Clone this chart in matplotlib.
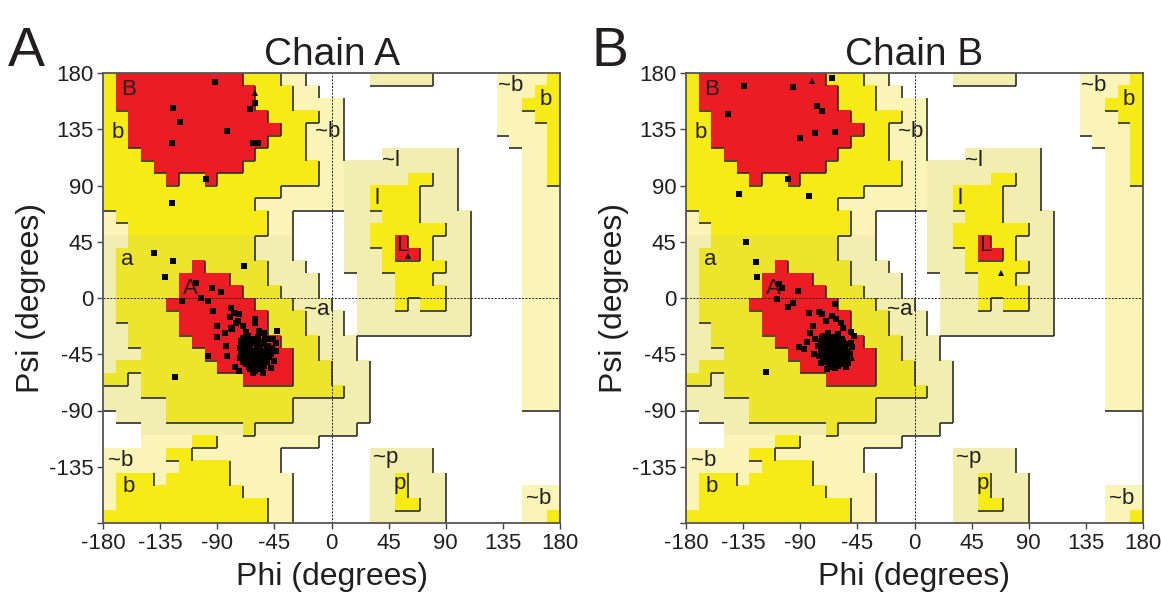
import numpy as np
import matplotlib
matplotlib.use('Agg')
import matplotlib.pyplot as plt
from matplotlib.colors import ListedColormap
from matplotlib.collections import LineCollection

plt.rcParams['font.family'] = ['Liberation Sans', 'DejaVu Sans']
plt.rcParams['axes.unicode_minus'] = False

# Ramachandran region map, 10 degree cells.
# row 0 = psi 170..180 (top), column 0 = phi -180..-170 (left)
# R core, Y/O allowed, P/G generous, . disallowed
regions = [
    "YRRRRRRRRRRYYYPP.....GGGGG.....PPPPY",
    "YRRRRRRRRRRRYYYPP..............PPPYY",
    "YRRRRRRRRRRRYYYPPPP............PPYYY",
    "YYRRRRRRRRRRRYYYYPP............PPPYY",
    "YYRRRRRRRRRRRRYYPPP............PPPPY",
    "YYRRRRRRRRRRRYYYPPP.............PPPY",
    "YYYRRRRRRRRRYYYYPPP...GGGGGG.....PPY",
    "YYYYRRRRRRRYYYYYYPPGGGGGGGGG.....PPY",
    "YYYYYRYYRYYYYYYYYPPGGGGGYYGG.....PPY",
    "YYYYYYYYYYYYYYPPPPPGGYYYYGGG.....PPP",
    "YYYYYYYYYYYYPPPPPPPGGYYYYGGG.....PPP",
    "PYYYYYYYYYYYYPP....GGGYYYGGGG....PPP",
    "PPYYYYYYYYYYYPP....GGYYYYYYGG....PPP",
    "GGOOOOOOOOOOGGG....GGYYRYYGGG....PPP",
    "GOOOOOOOOOOOGGG....GGGYRRYGGG....PPP",
    "GOOOOOOROOOOOGGG...GGGYYYYYGG....PPP",
    "GOOOOORRRROOOGGGG...GGGYYYGGG....PPP",
    "GOOOOORRRRROOOGGG...GGGYYYYGG....PPP",
    "GOOOORRRRRRROOOGGG..GGGYGYYGG....PPP",
    "GOOOOORRRRRRROOOGGG.GGGGGGGGG....PPP",
    "GGOOOORRRRRRROOOGGG.GGGGGGGGG....PPP",
    "GGOOOOORRRRRRROOOGGG.............PPP",
    "GGGOOOOORRRRRRROOGGG.............PPP",
    "GOOOOOOOORRRRRROOOGGG............PPP",
    "OOGOOOOOOOORRRROOOGGG............PPP",
    "GGGOOOOOOOOOOOOOOOOGG............PPP",
    "GGGGGOOOOOOOOOOGGGGGG............PPP",
    ".GGGGOOOOOOOOOOGGGGGG...............",
    "...GGGGGGGGOGGGGGGGG................",
    "...PPPPYYPPPPPPPP...................",
    "PPPPPYYPPPPPPP.......GGGGG..........",
    "PPPPPPYYYYPPPP.......GGGGG..........",
    "PYYYPYYYYYPPPPP......GGYGGG.........",
    "PYYYYYYYYYYPPPP......GGYGGG......PPP",
    "PYYYYYYYYYYYYPP......GGYYGG......PPP",
    "YYYYYYYYYYYYYPP......GGGGGG......PPY",
]
codes = ".PGYOR"
region_colors = ["#FFFFFF", "#FAF5B6", "#F1EEB0", "#F6EB15", "#EDE52B", "#EC1C24"]
levels = {".": 0, "P": 1, "G": 1, "Y": 2, "O": 2, "R": 3}

region_text = ["B", "b", "~b", "~l", "l", "L", "a", "A", "~a", "~b", "b", "~p", "p", "~b", "b", "~b"]
region_text_phi = [-160, -168, -3, 47, 36, 56, -161, -111, -12, -166, -160, 43, 54, 141, 169, 163]
region_text_psi = [167, 132, 133, 110, 80, 42, 31, 8, -9, -130, -151, -128, -148, 170, 159, -160]

# Chain A, non-glycine residues (squares)
chainA_phi = [-92, -60, -64, -125, -119, -82, -126, -62, -58, -99, -126,
              -140, -125, -131, -69, -107, -94, -87, -103, -97, -118, -93, -79, -77, -73,
              -90, -79, -74, -60, -90, -43, -51, -44, -44, -97, -82, -123,
              -70, -66, -62, -58, -55, -52, -68, -64, -60, -56, -50, -72, -68, -64, -61,
              -58, -54, -50, -47, -70, -66, -63, -60, -57, -53, -49, -72, -68, -65, -61,
              -58, -55, -51, -67, -63, -60, -56, -53, -64, -60, -57, -62, -66, -59, -62,
              -55, -69, -52, -58, -65, -78, -75, -80, -84, -76, -48, -45, -46, -43, -53,
              -60, -70, -83, -73, -54, -71, -67, -57, -63, -59, -48,
              -71, -67, -63, -59, -53, -69, -65, -57, -51, -71, -67, -64, -59, -55, -51,
              -69, -64, -61, -56, -53, -70, -66, -62, -59, -54, -65, -61, -58, -55, -63]
chainA_psi = [173, 156, 151, 152, 141, 134, 124, 124, 124, 95, 76,
              36, 30, 17, 26, 12, 8, 5, 0, -2, -2, -10, -8, -12, -13,
              -22, -24, -18, -17, -31, -26, -33, -36, -42, -46, -46, -63,
              -32, -30, -33, -31, -35, -33, -36, -37, -36, -38, -38, -40, -41, -40, -42,
              -41, -42, -43, -40, -45, -44, -46, -45, -47, -46, -47, -48, -49, -50, -49,
              -51, -50, -51, -53, -54, -53, -55, -54, -57, -58, -57, -60, -47, -39, -44,
              -45, -43, -49, -48, -42, -25, -20, -15, -28, -55, -56, -50, -33, -26, -28,
              -20, -22, -38, -58, -60, -35, -27, -26, -52, -55, -45,
              -34, -33, -35, -34, -37, -38, -39, -40, -41, -44, -45, -43, -43, -44, -45,
              -47, -48, -47, -48, -48, -51, -51, -52, -52, -52, -55, -56, -55, -57, -50]
# Chain A glycines (triangles)
chainA_gly_phi = [-60, 60]
chainA_gly_psi = [164, 34]

# Chain B, non-glycine residues
chainB_phi = [-134, -96, -65, -147, -77, -73, -78, -63, -90, -100, -138, -83,
              -133, -125, -124, -107, -104, -92, -108, -96, -100, -63, -83, -75, -73, -65,
              -82, -85, -91, -87, -79, -75, -69, -63, -54, -50, -117,
              -72, -68, -64, -60, -57, -74, -70, -66, -62, -58, -54, -76, -72, -68, -64,
              -60, -56, -52, -49, -74, -70, -66, -62, -58, -55, -51, -72, -68, -64, -60,
              -57, -53, -70, -66, -62, -58, -55, -66, -62, -58, -61, -68, -61, -64,
              -57, -71, -54, -60, -67, -78, -80, -58, -62, -70, -50, -52, -48, -56, -74,
              -73, -69, -65, -61, -56, -71, -67, -63, -59, -55, -73, -69, -65, -61, -57,
              -53, -71, -67, -63, -59, -56, -69, -65, -61, -57, -53, -67, -63, -60, -64]
chainB_psi = [170, 169, 176, 147, 154, 150, 132, 133, 128, 95, 83, 82,
              45, 29, 17, 11, 8, 6, -1, -4, -7, -5, -12, -11, -13, -14,
              -28, -35, -39, -41, -45, -46, -57, -56, -55, -36, -59,
              -30, -28, -31, -29, -33, -34, -35, -36, -34, -36, -37, -38, -39, -40, -38,
              -40, -41, -42, -39, -43, -44, -42, -44, -45, -44, -45, -47, -48, -47, -48,
              -49, -48, -51, -52, -50, -52, -51, -55, -54, -53, -46, -39, -43, -44,
              -46, -41, -50, -49, -40, -33, -22, -20, -17, -18, -27, -52, -30, -24, -52,
              -32, -33, -33, -32, -35, -37, -38, -37, -39, -40, -41, -42, -41, -42, -43,
              -43, -46, -46, -47, -46, -47, -50, -49, -50, -50, -50, -53, -53, -54, -44]
chainB_gly_phi = [-81, -49, 68]
chainB_gly_psi = [174, -48, 20]

panels = [("A", "Chain A", chainA_phi, chainA_psi, chainA_gly_phi, chainA_gly_psi),
          ("B", "Chain B", chainB_phi, chainB_psi, chainB_gly_phi, chainB_gly_psi)]
axes_left = [103, 686]

grid = np.array([[codes.index(ch) for ch in row] for row in regions])
lev = np.array([[levels[ch] for ch in row] for row in regions])

# boundary lines on the lower and right sides of each region
segs = []
for r in range(36):
    for c in range(36):
        x0 = -180 + 10 * c
        ytop = 180 - 10 * r
        if r < 35 and lev[r, c] > lev[r + 1, c]:
            segs.append([(x0, ytop - 10), (x0 + 10, ytop - 10)])
        if c < 35 and lev[r, c] > lev[r, c + 1]:
            segs.append([(x0 + 10, ytop), (x0 + 10, ytop - 10)])

W, H = 1161, 594
fig = plt.figure(figsize=(W / 100, H / 100), dpi=100)
textc = "#231F20"

for (letter, title, phi, psi, gphi, gpsi), left in zip(panels, axes_left):
    ax = fig.add_axes([left / W, 1 - 523 / H, 457 / W, 450 / H])
    ax.imshow(grid, cmap=ListedColormap(region_colors), vmin=-0.5, vmax=5.5,
              extent=(-180, 180, -180, 180), interpolation="nearest", aspect="auto", zorder=0)
    ax.add_collection(LineCollection(segs, colors="#2E2E2E", linewidths=1.2, zorder=1))
    ax.axhline(0, color="#222222", lw=0.7, ls=(0, (2, 1.5)), zorder=2)
    ax.axvline(0, color="#222222", lw=0.7, ls=(0, (2, 1.5)), zorder=2)
    for t, x, y in zip(region_text, region_text_phi, region_text_psi):
        ax.text(x, y, t, fontsize=16, color=textc, ha="center", va="center", zorder=3)
    ax.plot(phi, psi, "s", color="black", ms=4.8, mew=0, zorder=4)
    ax.plot(gphi, gpsi, "^", color="black", ms=5, mew=0, zorder=4)
    ax.set_xlim(-180, 180)
    ax.set_ylim(-180, 180)
    ticks = list(range(-180, 181, 45))
    ax.set_xticks(ticks)
    ax.set_yticks(ticks)
    ax.set_xticklabels([str(t) for t in ticks])
    ax.set_yticklabels([str(t) if t > -180 else "" for t in ticks])
    ax.tick_params(direction="out", length=4, width=1, labelsize=16,
                   colors="#444444", labelcolor=textc, pad=3)
    for s in ax.spines.values():
        s.set_color("#555555")
        s.set_linewidth(1.3)
    ax.set_title(title, fontsize=28, color=textc, pad=5)
    ax.set_xlabel("Phi (degrees)", fontsize=23, color=textc, labelpad=6)
    ax.set_ylabel("Psi (degrees)", fontsize=23, color=textc, labelpad=2)
    fig.text((left - 95) / W, 1 - 66 / H, letter, fontsize=40, color=textc)

fig.savefig("out.png", dpi=100)
